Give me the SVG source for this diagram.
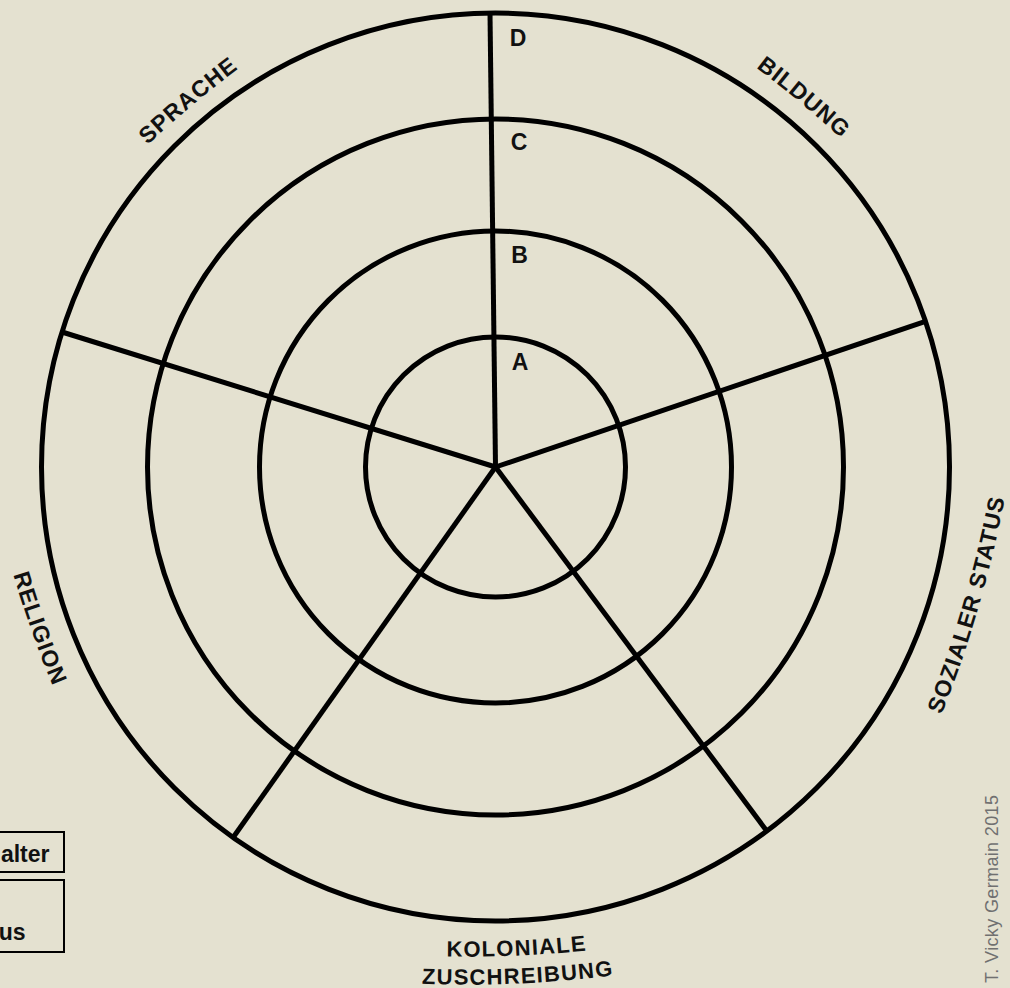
<svg xmlns="http://www.w3.org/2000/svg" width="1010" height="988" viewBox="0 0 1010 988">
<style>
.ring{fill:none;stroke:#000;stroke-width:5}
.spoke{stroke:#000;stroke-width:5;stroke-linecap:butt}
.lbl{font-family:"Liberation Sans",Arial,sans-serif;font-weight:700;font-size:23px;fill:#111;letter-spacing:1px}
.kol{font-size:22px;letter-spacing:1.3px}
.lvl{font-family:"Liberation Sans",Arial,sans-serif;font-weight:700;font-size:23px;fill:#111}
.box{fill:none;stroke:#000;stroke-width:2}
.boxt{font-family:"Liberation Sans",Arial,sans-serif;font-weight:700;font-size:23px;fill:#111}
.copy{font-family:"Liberation Sans",Arial,sans-serif;font-size:18px;fill:#707070}
</style>
<defs>
<path id="pSpr" d="M -236.5 1024.7 A 1200 1200 0 1 1 2163.5 1024.7 A 1200 1200 0 1 1 -236.5 1024.7"/>
<path id="pBil" d="M -1168.6 1024 A 1200 1200 0 1 1 1231.4 1024 A 1200 1200 0 1 1 -1168.6 1024"/>
<path id="pSoz" d="M -1373.5 271.4 A 1200 1200 0 1 0 1026.5 271.4 A 1200 1200 0 1 0 -1373.5 271.4"/>
<path id="pRel" d="M -37.1 230.7 A 1200 1200 0 1 0 2362.9 230.7 A 1200 1200 0 1 0 -37.1 230.7"/>
<path id="pKol" d="M -735.51 -243.32 A 1200 1200 0 1 0 1664.49 -243.32 A 1200 1200 0 1 0 -735.51 -243.32"/>
<path id="pZus" d="M -734.29 -215.35 A 1200 1200 0 1 0 1665.71 -215.35 A 1200 1200 0 1 0 -734.29 -215.35"/>
</defs>
<rect x="0" y="0" width="1010" height="988" fill="#e4e1d0"/>
<g id="rings">
<circle class="ring" cx="495.5" cy="467" r="130"/>
<circle class="ring" cx="495.5" cy="467" r="236"/>
<circle class="ring" cx="495.5" cy="467" r="348"/>
<circle class="ring" cx="495.5" cy="467" r="454"/>
</g>
<g id="connectors">
<line class="spoke" x1="495.5" y1="467" x2="490" y2="13"/>
<line class="spoke" x1="495.5" y1="467" x2="925.5" y2="321.4"/>
<line class="spoke" x1="495.5" y1="467" x2="766.8" y2="831"/>
<line class="spoke" x1="495.5" y1="467" x2="233.1" y2="837.5"/>
<line class="spoke" x1="495.5" y1="467" x2="62" y2="332"/>
</g>
<g id="levels">
<text class="lvl" x="518" y="46" text-anchor="middle">D</text>
<text class="lvl" x="519" y="150" text-anchor="middle">C</text>
<text class="lvl" x="519.5" y="263" text-anchor="middle">B</text>
<text class="lvl" x="520" y="369.5" text-anchor="middle">A</text>
</g>
<g id="sprache"><text class="lbl" text-anchor="middle"><textPath href="#pSpr" startOffset="1047.2">SPRACHE</textPath></text></g>
<g id="bildung"><text class="lbl" text-anchor="middle"><textPath href="#pBil" startOffset="2718.5">BILDUNG</textPath></text></g>
<g id="sozialer-status"><text class="lbl" text-anchor="middle"><textPath href="#pSoz" startOffset="3428.6">SOZIALER STATUS</textPath></text></g>
<g id="religion"><text class="lbl" text-anchor="middle"><textPath href="#pRel" startOffset="408.4">RELIGION</textPath></text></g>
<g id="koloniale"><text class="lbl kol" text-anchor="middle"><textPath href="#pKol" startOffset="1937.3">KOLONIALE</textPath></text>
<text class="lbl kol" text-anchor="middle"><textPath href="#pZus" startOffset="1937.3">ZUSCHREIBUNG</textPath></text></g>
<g id="legend1">
<rect class="box" x="-10" y="832" width="74" height="40"/>
<text class="boxt" x="49.5" y="862" text-anchor="end">alter</text>
</g>
<g id="legend2">
<rect class="box" x="-10" y="880" width="74" height="72"/>
<text class="boxt" x="25.5" y="940" text-anchor="end">us</text>
</g>
<g id="credit">
<text class="copy" transform="translate(998,983) rotate(-90)" x="0" y="0" textLength="188" lengthAdjust="spacing">T. Vicky Germain 2015</text>
</g>
</svg>
